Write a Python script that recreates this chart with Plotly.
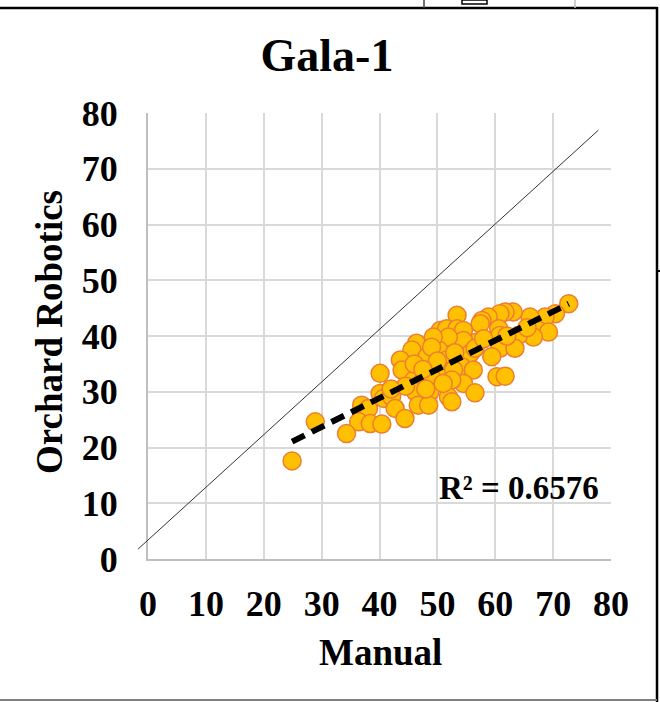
import numpy as np
import plotly.graph_objects as go

# ---------------- data ----------------
manual = [
    72.7, 70.4, 68.6, 66.0, 63.1, 61.7, 60.8, 58.8, 57.7, 57.4,
    53.4, 50.5, 51.6, 53.4, 54.5, 60.6, 60.8, 67.5, 69.2, 66.6,
    64.0, 56.8, 54.5, 51.9, 50.2, 49.3, 46.4, 45.6, 60.8, 63.4,
    59.4, 48.2, 51.6, 55.7, 56.5, 43.6, 43.9, 40.1, 54.5, 54.2,
    50.8, 56.2, 52.8, 45.9, 47.6, 49.3, 60.3, 61.7, 54.5, 52.5,
    48.7, 46.2, 56.5, 40.1, 40.7, 42.1, 42.7, 51.9, 52.5, 46.7,
    48.5, 36.9, 38.1, 44.4, 36.4, 38.4, 40.4, 34.3, 28.9, 24.9,
    46.0, 49.0, 50.0, 53.0, 47.5, 51.0, 44.5, 42.0, 58.0, 62.0,
    65.5, 48.0,
]
robotics = [
    45.8, 44.0, 43.4, 43.4, 44.3, 44.3, 44.0, 43.4, 42.8, 42.2,
    43.7, 41.0, 41.3, 41.3, 41.0, 41.3, 40.1, 41.0, 40.7, 39.8,
    40.1, 38.9, 39.2, 39.8, 37.5, 39.8, 38.7, 37.5, 37.8, 37.8,
    36.3, 36.3, 35.7, 36.9, 37.8, 35.7, 33.9, 33.3, 33.3, 34.5,
    33.9, 33.9, 33.9, 32.1, 32.1, 32.1, 32.7, 32.8, 31.5, 32.1,
    30.0, 30.0, 29.8, 29.7, 28.8, 29.1, 27.0, 29.1, 28.2, 27.6,
    27.6, 27.6, 27.0, 25.2, 24.6, 24.3, 24.2, 22.5, 24.6, 17.6,
    35.0, 38.0, 35.5, 37.0, 34.0, 31.5, 31.0, 30.5, 39.5, 40.0,
    41.5, 30.5,
]
r2_label = "R² = 0.6576"
ref_line_x = [-1.7, 77.8]
ref_line_y = [1.8, 76.9]
x_range = [0, 80]
y_range = [0, 80]
tick_vals = [0, 10, 20, 30, 40, 50, 60, 70, 80]
title_text = "Gala-1"
x_title = "Manual"
y_title = "Orchard Robotics"

# ---------------- layout geometry ----------------
W, H = 660, 702
L, R, T, B = 148, 49, 113, 143
PW, PH = W - L - R, H - T - B


def px_x(p):
    return (p - L) / PW


def px_y(p):
    return (H - B - p) / PH


FONT = "Liberation Serif"

# trendline from data
mx = np.array(manual)
ry = np.array(robotics)
slope, intercept = np.polyfit(mx, ry, 1)
tx = np.array([mx.min(), mx.max()])
ty = slope * tx + intercept

fig = go.Figure()
fig.add_trace(go.Scatter(
    x=manual, y=robotics, mode="markers",
    marker=dict(size=18, color="#FFC000", line=dict(color="#ED7D31", width=1.5)),
    showlegend=False, hoverinfo="skip",
))
fig.add_trace(go.Scatter(
    x=tx, y=ty, mode="lines",
    line=dict(color="black", width=6, dash="14px,8px"),
    showlegend=False, hoverinfo="skip",
))


def dom_x(v):
    return (v - x_range[0]) / (x_range[1] - x_range[0])


def dom_y(v):
    return (v - y_range[0]) / (y_range[1] - y_range[0])


shapes = [
    # reference line (not clipped, uses domain refs computed from data values)
    dict(type="line", xref="x domain", yref="y domain",
         x0=dom_x(ref_line_x[0]), y0=dom_y(ref_line_y[0]),
         x1=dom_x(ref_line_x[1]), y1=dom_y(ref_line_y[1]),
         line=dict(color="#333333", width=1)),
    # chart frame pieces
    dict(type="line", xref="paper", yref="paper", x0=px_x(0), x1=px_x(657), y0=px_y(8), y1=px_y(8),
         line=dict(color="black", width=2.5)),
    dict(type="line", xref="paper", yref="paper", x0=px_x(657), x1=px_x(657), y0=px_y(7), y1=px_y(702),
         line=dict(color="black", width=2.5)),
    dict(type="line", xref="paper", yref="paper", x0=px_x(0), x1=px_x(657), y0=px_y(700), y1=px_y(700),
         line=dict(color="#7F7F7F", width=2)),
    dict(type="line", xref="paper", yref="paper", x0=px_x(424), x1=px_x(424), y0=px_y(0), y1=px_y(8),
         line=dict(color="#404040", width=1.5)),
    dict(type="line", xref="paper", yref="paper", x0=px_x(575), x1=px_x(575), y0=px_y(0), y1=px_y(8),
         line=dict(color="#C0C0C0", width=1.5)),
    dict(type="rect", xref="paper", yref="paper", x0=px_x(462), x1=px_x(487), y0=px_y(0), y1=px_y(4),
         line=dict(color="black", width=1.5), fillcolor="white"),
    dict(type="line", xref="paper", yref="paper", x0=px_x(657), x1=px_x(660), y0=px_y(271), y1=px_y(271),
         line=dict(color="black", width=2)),
]

annotations = [
    dict(text=r2_label, x=64.1, y=12.7, xref="x", yref="y", showarrow=False,
         font=dict(family=FONT, size=33, color="black", weight="bold"),
         xanchor="center", yanchor="middle"),
    dict(text=x_title, x=px_x(380), y=px_y(652), xref="paper", yref="paper", showarrow=False,
         font=dict(family=FONT, size=37, color="black", weight="bold"),
         xanchor="center", yanchor="middle"),
    dict(text=y_title, x=px_x(49), y=px_y(332), xref="paper", yref="paper", showarrow=False,
         textangle=-90,
         font=dict(family=FONT, size=37, color="black", weight="bold"),
         xanchor="center", yanchor="middle"),
]

axis_common = dict(
    tickmode="array", tickvals=tick_vals, ticktext=[str(v) for v in tick_vals],
    showgrid=True, gridcolor="#D9D9D9", gridwidth=2,
    showline=True, linecolor="#BFBFBF", linewidth=2,
    zeroline=False, ticks="",
    tickfont=dict(family=FONT, size=36, color="black", weight="bold"),
    fixedrange=True,
)

fig.update_layout(
    width=W, height=H,
    margin=dict(l=L, r=R, t=T, b=B, pad=0),
    paper_bgcolor="white", plot_bgcolor="white",
    title=dict(text=title_text, x=327 / W, xref="container", xanchor="center",
               y=1 - 55 / H, yref="container", yanchor="middle",
               font=dict(family=FONT, size=46, color="black", weight="bold")),
    xaxis=dict(range=x_range, ticklabelstandoff=12, **axis_common),
    yaxis=dict(range=y_range, ticklabelstandoff=21, **axis_common),
    shapes=shapes, annotations=annotations,
    showlegend=False,
)

fig.write_html("out.html")
